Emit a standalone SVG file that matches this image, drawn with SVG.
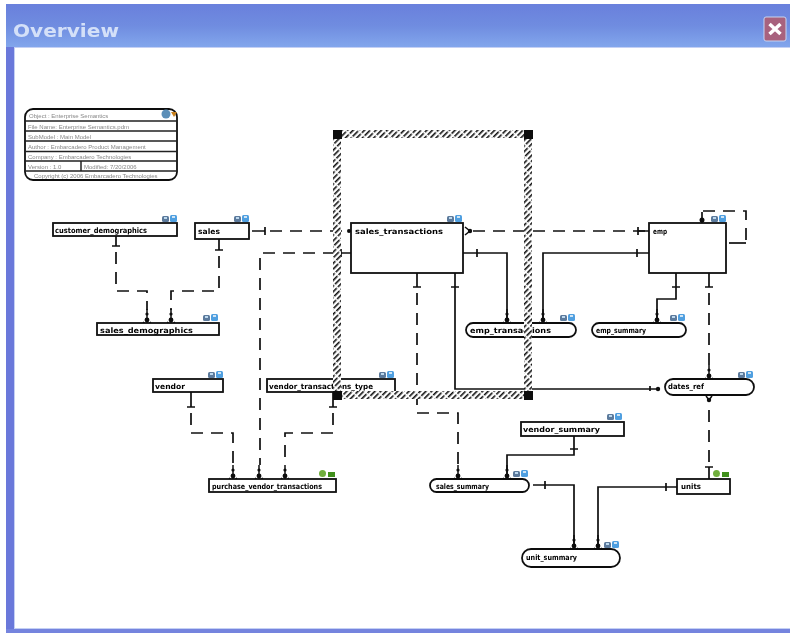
<svg xmlns="http://www.w3.org/2000/svg" width="790" height="633" viewBox="0 0 790 633">
<style>
.box{fill:#fff;stroke:#111;stroke-width:1.8}
.thin{fill:none;stroke:#222;stroke-width:1.5}
.s{fill:none;stroke:#111;stroke-width:1.7}
.d{fill:none;stroke:#111;stroke-width:1.7;stroke-dasharray:12 8}
.t{fill:none;stroke:#111;stroke-width:1.5}
.lb{font-family:"DejaVu Sans",sans-serif;font-size:7.500px;font-weight:bold;fill:#000}
.tb{font-family:"Liberation Sans",sans-serif;font-size:6px;fill:#888}
.hd{fill:#111}
</style>
<defs>
<filter id="soft" x="0" y="0" width="100%" height="100%"><feGaussianBlur stdDeviation="0.35"/></filter>
<linearGradient id="bar" x1="0" y1="0" x2="0" y2="1"><stop offset="0" stop-color="#6a80dc"/><stop offset=".5" stop-color="#6f8ce0"/><stop offset="1" stop-color="#82a6ec"/></linearGradient>
<pattern id="hatch" width="9" height="4" patternUnits="userSpaceOnUse" patternTransform="rotate(-45)"><rect width="9" height="4" fill="#fff"/><rect y="1" width="7.500" height="1.600" fill="#111"/></pattern>
<g id="ic"><rect x="0" y="1" width="7" height="6" rx="1.5" fill="#5b7a9c"/><rect x="8" y="0" width="7" height="7" rx="1.5" fill="#4f9fe0"/><rect x="2" y="2" width="3" height="2" fill="#bcd8ee"/><rect x="10" y="1" width="3" height="2" fill="#cfe4f4"/></g>
<g id="icg"><circle cx="3.500" cy="3.500" r="3.500" fill="#6fae3c"/><rect x="9" y="2" width="7" height="5" fill="#3f8f1f"/></g>
<g id="dn"><circle cx="0" cy="-3" r="2.400" class="hd"/><circle cx="0" cy="-9" r="1.600" class="hd"/><path class="t" d="M0-14V0M-4 -1L-2.500 0M4 -1L2.500 0"/></g>
</defs>
<rect width="790" height="633" fill="#fff"/>
<g filter="url(#soft)">
<rect x="6" y="4" width="784" height="43" fill="url(#bar)"/>
<rect x="6" y="47" width="8" height="586" fill="#6a78da"/>
<rect x="6" y="629" width="784" height="4" fill="#7484de"/>
<rect x="14" y="47" width="776" height="1" fill="#c4d0f4"/>
<rect x="14" y="48" width="1" height="581" fill="#c4d0f4"/>
<rect x="15" y="628" width="775" height="1" fill="#c4d0f4"/>
<text x="13" y="37" font-family="DejaVu Sans,sans-serif" font-size="18" font-weight="bold" fill="#d4e0f8" textLength="106" lengthAdjust="spacingAndGlyphs">Overview</text>
<g id="close"><rect x="764" y="17" width="22" height="24" rx="2" fill="#a8627e" stroke="#c8d4f0"/><path d="M769.500 24L780.500 34M780.500 24L769.500 34" stroke="#fff" stroke-width="3.500" fill="none"/></g>

<g id="connectors">
<path class="s" d="M252 231H265M265 227V235"/><path class="d" d="M270 231H351"/>
<path class="s" d="M351 253H341M341 249V257"/><path class="d" d="M335 253H260V465"/><use href="#dn" x="259" y="479"/>
<path class="s" d="M116 236V246M112 246H120"/><path class="d" d="M116 252V291H147V310"/><use href="#dn" x="147" y="323"/>
<path class="s" d="M219 239V250M215 250H223"/><path class="d" d="M219 256V291H171V310"/><use href="#dn" x="171" y="323"/>
<path class="s" d="M191 392V407M187 407H195"/><path class="d" d="M191 413V433H233V465"/><use href="#dn" x="233" y="479"/>
<path class="s" d="M333 392V407M329 407H337"/><path class="d" d="M333 413V433H285V465"/><use href="#dn" x="285" y="479"/>
<path class="s" d="M417 273V287M413 287H421"/><path class="d" d="M417 293V413H458V465"/><use href="#dn" x="458" y="479"/>
<path class="s" d="M455 273V389H660M451 287H459M650 386V391"/><circle cx="658" cy="389" r="2.200" class="hd"/>
<path class="s" d="M463 253H507V323M477 249V257"/><use href="#dn" x="507" y="323"/>
<path class="s" d="M649 253H543V323M637 249V257"/><use href="#dn" x="543" y="323"/>
<path class="s" d="M676 273V299H657V323M672 287H680"/><use href="#dn" x="657" y="323"/>
<path class="s" d="M709 273V287M705 287H713"/><path class="d" d="M709 293V365"/><use href="#dn" x="709" y="379"/>
<path class="d" d="M709 462V400"/><path class="s" d="M705 467H713M709 467V479"/><circle cx="709" cy="400" r="2.200" class="hd"/><path class="t" d="M706 396L709 400L712 396"/>
<path class="d" d="M645 231H470"/><path class="s" d="M638 227V235M638 231H649"/><circle cx="470" cy="231" r="2.200" class="hd"/><path class="t" d="M465 227L470 231L465 235"/>
<circle cx="651" cy="231" r="2" class="hd"/><circle cx="349" cy="231" r="2" class="hd"/>
<path class="s" d="M702 223V212"/><circle cx="702" cy="220" r="2.500" class="hd"/><path class="d" d="M703 211H746V241"/><path class="s" d="M746 243H729"/>
<path class="s" d="M574 436V455H507V479M570 449H578"/><use href="#dn" x="507" y="479"/>
<path class="s" d="M533 485H574V549M545 481V489"/><use href="#dn" x="574" y="549"/>
<path class="s" d="M677 487H598V549M666 483V491"/><use href="#dn" x="598" y="549"/>
</g>

<g id="title-block">
<rect class="box" x="25" y="109" width="152" height="71" rx="8"/>
<path class="thin" d="M25 121H177M25 131H177M25 141H177M25 151.500H177M25 161H177M25 171H177M81 161V171"/>
<text class="tb" x="29" y="118">Object    : Enterprise Semantics</text>
<text class="tb" x="28" y="128.500">File Name: Enterprise Semantics.pdm</text>
<text class="tb" x="28" y="138.500">SubModel : Main Model</text>
<text class="tb" x="28" y="148.500">Author    : Embarcadero Product Management</text>
<text class="tb" x="28" y="158.500">Company : Embarcadero Technologies</text>
<text class="tb" x="28" y="168.500">Version   : 1.0</text>
<text class="tb" x="84" y="168.500">Modified: 7/20/2006</text>
<text class="tb" x="34" y="178">Copyright (c) 2006 Embarcadero Technologies</text>
<circle cx="166" cy="114" r="4.500" fill="#5b8fb8"/><path d="M171 112h6l-3 5z" fill="#c8801e"/>
</g>

<g id="node-customer-demographics"><rect class="box" x="53" y="223" width="124" height="13"/><text class="lb" x="55" y="233" textLength="92" lengthAdjust="spacingAndGlyphs">customer_demographics</text><use href="#ic" x="162" y="215"/></g>
<g id="node-sales"><rect class="box" x="195" y="223" width="54" height="16"/><text class="lb" x="198" y="234" textLength="22" lengthAdjust="spacingAndGlyphs">sales</text><use href="#ic" x="234" y="215"/></g>
<g id="node-sales-transactions"><rect class="box" x="351" y="223" width="112" height="50"/><text class="lb" x="355" y="234" textLength="88" lengthAdjust="spacingAndGlyphs">sales_transactions</text><use href="#ic" x="447" y="215"/></g>
<g id="node-emp"><rect class="box" x="649" y="223" width="77" height="50"/><text class="lb" x="653" y="234" textLength="14" lengthAdjust="spacingAndGlyphs">emp</text><use href="#ic" x="711" y="215"/></g>
<g id="node-sales-demographics"><rect class="box" x="97" y="323" width="122" height="12"/><text class="lb" x="100" y="333" textLength="93" lengthAdjust="spacingAndGlyphs">sales_demographics</text><use href="#ic" x="203" y="314"/></g>
<g id="node-emp-transactions"><rect class="box" x="466" y="323" width="110" height="14" rx="7"/><text class="lb" x="470" y="333" textLength="81" lengthAdjust="spacingAndGlyphs">emp_transactions</text><use href="#ic" x="560" y="314"/></g>
<g id="node-emp-summary"><rect class="box" x="592" y="323" width="94" height="14" rx="7"/><text class="lb" x="596" y="333" textLength="50" lengthAdjust="spacingAndGlyphs">emp_summary</text><use href="#ic" x="670" y="314"/></g>
<g id="node-vendor"><rect class="box" x="153" y="379" width="70" height="13"/><text class="lb" x="155" y="389" textLength="30" lengthAdjust="spacingAndGlyphs">vendor</text><use href="#ic" x="208" y="371"/></g>
<g id="node-vendor-transactions"><rect class="box" x="267" y="379" width="128" height="13"/><text class="lb" x="269" y="389" textLength="104" lengthAdjust="spacingAndGlyphs">vendor_transactions_type</text><use href="#ic" x="379" y="371"/></g>
<g id="node-dates"><rect class="box" x="665" y="379" width="89" height="16" rx="8"/><text class="lb" x="668" y="389" textLength="36" lengthAdjust="spacingAndGlyphs">dates_ref</text><use href="#ic" x="738" y="371"/></g>
<g id="node-vendor-summary"><rect class="box" x="521" y="422" width="103" height="14"/><text class="lb" x="523" y="432" textLength="77" lengthAdjust="spacingAndGlyphs">vendor_summary</text><use href="#ic" x="607" y="413"/></g>
<g id="node-purchase-transactions"><rect class="box" x="209" y="479" width="127" height="13"/><text class="lb" x="212" y="489" textLength="110" lengthAdjust="spacingAndGlyphs">purchase_vendor_transactions</text><use href="#icg" x="319" y="470"/></g>
<g id="node-sales-summary"><rect class="box" x="430" y="479" width="99" height="13" rx="6.500"/><text class="lb" x="436" y="489" textLength="53" lengthAdjust="spacingAndGlyphs">sales_summary</text><use href="#ic" x="513" y="470"/></g>
<g id="node-units"><rect class="box" x="677" y="479" width="53" height="15"/><text class="lb" x="681" y="489" textLength="20" lengthAdjust="spacingAndGlyphs">units</text><use href="#icg" x="713" y="470"/></g>
<g id="node-unit-summary"><rect class="box" x="522" y="549" width="98" height="18" rx="9"/><text class="lb" x="526" y="560" textLength="51" lengthAdjust="spacingAndGlyphs">unit_summary</text><use href="#ic" x="604" y="541"/></g>

<g id="selection">
<path d="M337 134H528V395H337Z" fill="none" stroke="url(#hatch)" stroke-width="8"/>
<rect x="333" y="130" width="9" height="9" class="hd"/><rect x="524" y="130" width="9" height="9" class="hd"/><rect x="333" y="391" width="9" height="9" class="hd"/><rect x="524" y="391" width="9" height="9" class="hd"/>
</g>
</g>
</svg>
